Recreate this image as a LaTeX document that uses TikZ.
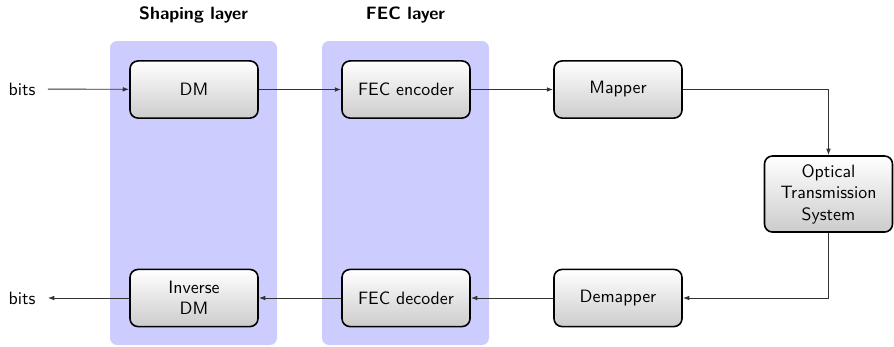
\documentclass[tikz,border=0pt]{standalone}
\usetikzlibrary{arrows.meta}
\begin{document}
\begin{tikzpicture}[x=0.56pt,y=-0.56pt,font=\sffamily,
  layerbg/.style={fill=blue!20,draw=none,rounded corners=4pt},
  block/.style={draw=black,line width=0.9pt,rounded corners=4.5pt,
    top color=white,bottom color=gray!40,minimum width=71.7pt,
    minimum height=32pt,inner sep=1pt,align=center},
  title/.style={font=\sffamily\bfseries},
  link/.style={draw=black!80,line width=0.5pt,-{Latex[length=3.6pt,width=2.6pt]}},
  lbl/.style={inner sep=2pt,outer sep=5pt}]
  \useasboundingbox (0,0) rectangle (894,346);

  % layer backgrounds
  \fill[layerbg] (110,41) rectangle (277,345);
  \fill[layerbg] (322,41) rectangle (489,345);
  \node[title] (tshape) at (193.5,15) {Shaping layer};
  \node[title] (tfec) at (405.5,15) {FEC layer};

  % transmitter chain
  \node[lbl] (bin) at (22,89) {bits};
  \node[block] (dm) at (194,89.5) {DM};
  \node[block] (enc) at (406,89.5) {FEC encoder};
  \node[block] (map) at (618,89.5) {Mapper};
  \node[block,minimum height=42.6pt] (ots) at (828.5,194) {Optical\\Transmission\\System};

  % receiver chain
  \node[block] (demap) at (618,298) {Demapper};
  \node[block] (dec) at (406,298) {FEC decoder};
  \node[block] (idm) at (194,298) {Inverse\\DM};
  \node[lbl] (bout) at (22,298) {bits};

  \draw[link] (bin) -- (dm);
  \draw[link] (dm) -- (enc);
  \draw[link] (enc) -- (map);
  \draw[link] (map.east) -| (ots.north);
  \draw[link] (ots.south) |- (demap.east);
  \draw[link] (demap) -- (dec);
  \draw[link] (dec) -- (idm);
  \draw[link] (idm) -- (bout);
\end{tikzpicture}
\end{document}
